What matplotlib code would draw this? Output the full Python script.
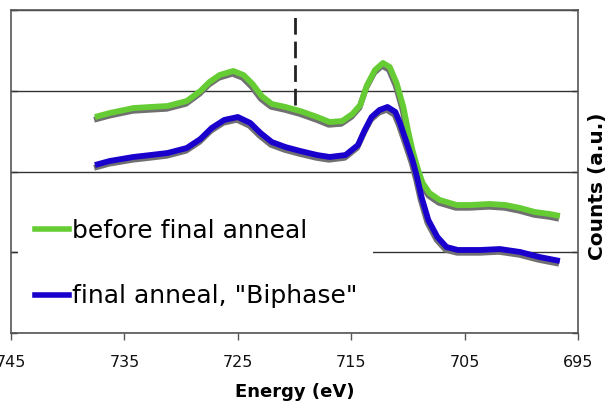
import matplotlib
matplotlib.use("Agg")
import matplotlib.pyplot as plt
import matplotlib.patheffects as pe
from matplotlib.patches import Rectangle
from matplotlib.lines import Line2D

# ---- data ----
energy_before = [737.6, 736.3, 734.2, 732.7, 731.2, 729.5, 728.3, 727.5, 726.6, 725.4,
                 724.5, 723.7, 722.9, 722.0, 720.8, 719.5, 718.0, 716.9, 715.8, 714.9,
                 714.2, 713.6, 712.9, 712.2, 711.6, 711.0, 710.4, 710.0, 709.6, 709.1,
                 708.7, 708.1, 707.2, 705.7, 704.5, 702.8, 701.4, 700.1, 698.8, 697.5, 696.6]
counts_before = [2.675, 2.724, 2.786, 2.799, 2.811, 2.873, 2.997, 3.108, 3.195, 3.245,
                 3.195, 3.084, 2.935, 2.836, 2.799, 2.749, 2.675, 2.613, 2.625, 2.712,
                 2.824, 3.071, 3.257, 3.344, 3.294, 3.096, 2.799, 2.514, 2.266, 2.019,
                 1.858, 1.734, 1.647, 1.585, 1.585, 1.598, 1.585, 1.548, 1.498, 1.474, 1.449]

energy_biphase = [737.6, 736.3, 734.2, 732.7, 731.2, 729.5, 728.3, 727.3, 726.2, 725.0,
                  723.9, 723.0, 722.0, 720.8, 719.5, 718.0, 716.9, 715.5, 714.4, 713.8,
                  713.2, 712.5, 711.8, 711.1, 710.7, 710.1, 709.6, 709.2, 708.8, 708.2,
                  707.4, 706.6, 705.6, 703.6, 701.9, 700.1, 698.4, 696.6]
counts_biphase = [2.080, 2.130, 2.180, 2.204, 2.229, 2.291, 2.402, 2.539, 2.638, 2.675,
                  2.601, 2.477, 2.365, 2.303, 2.254, 2.204, 2.180, 2.204, 2.328, 2.514,
                  2.675, 2.762, 2.799, 2.737, 2.601, 2.353, 2.142, 1.932, 1.684, 1.399,
                  1.189, 1.065, 1.028, 1.028, 1.040, 1.003, 0.941, 0.892]

labels = ["before final anneal", 'final anneal, "Biphase"']
x_ticks = [745, 735, 725, 715, 705, 695]
y_grid = [0, 1, 2, 3, 4]
marker_energy = 720
marker_top, marker_bottom = 4.0, 2.82

green = "#66CC33"
blue = "#1A00CC"

fig = plt.figure(figsize=(6.08, 4.03), dpi=100)
ax = fig.add_axes([11/608, (403-333)/403, (578-11)/608, (333-10)/403])

shadow = [pe.SimpleLineShadow(offset=(-0.6, -2.0), shadow_color="#707070", alpha=1.0),
          pe.Normal()]

ax.plot(energy_before, counts_before, color=green, lw=4.2, solid_capstyle="butt",
        path_effects=shadow, zorder=3)
ax.plot(energy_biphase, counts_biphase, color=blue, lw=4.2, solid_capstyle="butt",
        path_effects=shadow, zorder=3)

ax.plot([marker_energy, marker_energy], [marker_bottom, marker_top], color="#222222",
        lw=2.0, dashes=(6, 2.5), zorder=2)

ax.set_xlim(745, 695)
ax.set_ylim(0, 4)
ax.set_xticks(x_ticks)
ax.set_xticklabels([str(v) for v in x_ticks], fontsize=11.5, color="#111111")
ax.set_yticks(y_grid)
ax.set_yticklabels([])

ax.set_axisbelow(True)
ax.grid(axis="y", color="#333333", lw=1.0)
ax.tick_params(axis="x", direction="out", length=5, width=1, color="#555555", pad=11)
ax.tick_params(axis="y", direction="in", length=4, width=1, color="#333333",
               left=True, right=True)
for s in ax.spines.values():
    s.set_color("#555555")
    s.set_linewidth(1.2)

# white background box behind the legend
ax.add_patch(Rectangle((0.012, 0.01), 0.638 - 0.012, 0.46, transform=ax.transAxes,
                       facecolor="white", edgecolor="none", zorder=1))

handles = [Line2D([], [], color=green, lw=4), Line2D([], [], color=blue, lw=4)]
ax.legend(handles, labels, loc="lower left", bbox_to_anchor=(0.025, 0.045),
          frameon=False, fontsize=18, handlelength=1.35, handletextpad=0.12,
          labelspacing=1.65, borderaxespad=0)

ax.set_xlabel("Energy (eV)", fontsize=13, fontweight="bold")
ax.xaxis.set_label_coords(0.5, -(392 - 333) / 323)
ax.xaxis.label.set_va("center")
ax.yaxis.set_label_position("right")
ax.set_ylabel("Counts (a.u.)", fontsize=14.5, fontweight="bold")
ax.yaxis.set_label_coords((598 - 11) / 567, (333 - 186) / 323)
ax.yaxis.label.set_va("center")

fig.savefig("out.png", dpi=100)
